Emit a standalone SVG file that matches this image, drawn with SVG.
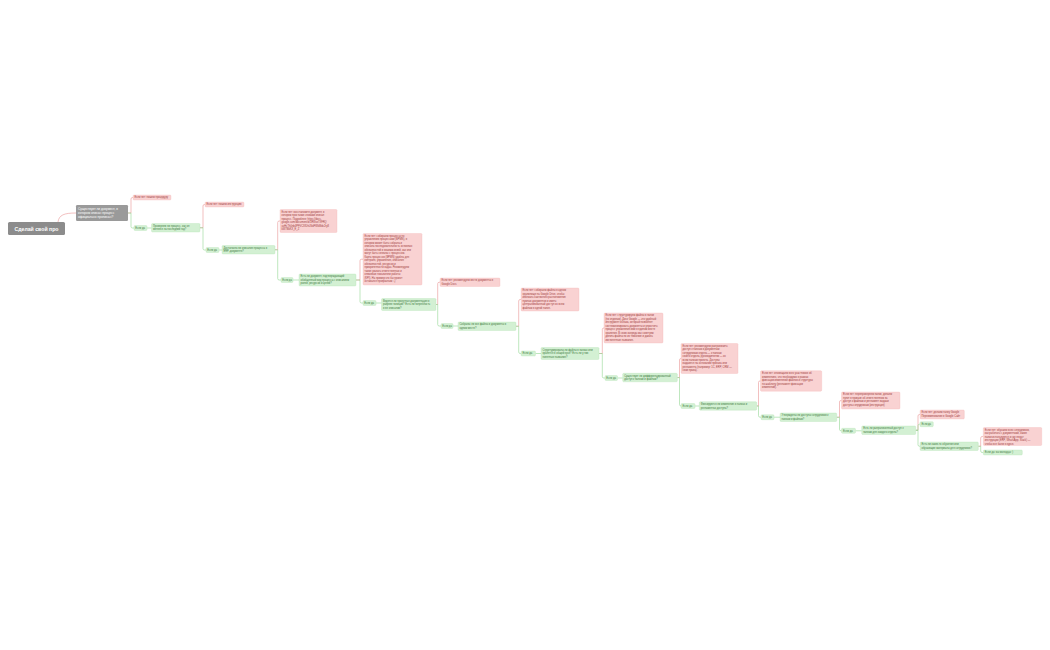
<svg xmlns="http://www.w3.org/2000/svg" width="1050" height="650" viewBox="0 0 1050 650">
<style>
.bg{fill:#ffffff}
.r{fill:#f9d2d2;stroke:#f0b0b0;stroke-width:0.3}
.g{fill:#d3f0d3;stroke:#ade0ad;stroke-width:0.3}
.tr{font-family:"Liberation Sans",Arial,sans-serif;font-size:2.6px;fill:#a23a3a}
.tg{font-family:"Liberation Sans",Arial,sans-serif;font-size:2.6px;fill:#3b7a3b}
.lr{fill:none;stroke:#e99696;stroke-width:0.6}
.lg{fill:none;stroke:#93d693;stroke-width:0.6}
</style>
<rect class="bg" x="0" y="0" width="1050" height="650"/>
<g id="connectors">
<path class="lr" d="M58,222 C59,215 64,213 76,213"/>
<path class="lr" d="M128,213 H131 V199 Q131,197.5 132.5,197.5 H133"/>
<path class="lg" d="M128,213 H131 V226.5 Q131,228 132.5,228 H134"/>
<path class="lg" d="M147,228 H151.5"/>
<path class="lr" d="M200,227.75 H203 V206 Q203,204.5 204.5,204.5 H205"/>
<path class="lg" d="M200,227.75 H203 V248.5 Q203,250 204.5,250 H206"/>
<path class="lg" d="M219,250 H222"/>
<path class="lr" d="M275,249.75 H277.7 V222.5 Q277.7,221 279.2,221 H280"/>
<path class="lg" d="M275,249.75 H277.7 V278.5 Q277.7,280 279.2,280 H281"/>
<path class="lg" d="M293,280 H299"/>
<path class="lr" d="M356,280 H360 V260.75 Q360,259.25 361.5,259.25 H363"/>
<path class="lg" d="M356,280 H360 V301.5 Q360,303 361.5,303 H363"/>
<path class="lg" d="M376,303 H381.5"/>
<path class="lr" d="M436,304.5 H437.7 V283.75 Q437.7,282.25 439.2,282.25 H440"/>
<path class="lg" d="M436,304.5 H437.7 V324.5 Q437.7,326 439.2,326 H441"/>
<path class="lg" d="M453,326 H458"/>
<path class="lr" d="M516,326.25 H518.7 V301 Q518.7,299.5 520.2,299.5 H521"/>
<path class="lg" d="M516,326.25 H518.7 V352 Q518.7,353.5 520.2,353.5 H521"/>
<path class="lg" d="M535.5,353.5 H541"/>
<path class="lr" d="M599,353.5 H602.3 V329.5 Q602.3,328 603.8,328 H604"/>
<path class="lg" d="M599,353.5 H602.3 V376.5 Q602.3,378 603.8,378 H605"/>
<path class="lg" d="M617.5,378 H622.7"/>
<path class="lr" d="M677.3,377.55 H679.5 V360 Q679.5,358.5 681,358.5"/>
<path class="lg" d="M677.3,377.55 H679.5 V404.5 Q679.5,406 681,406"/>
<path class="lg" d="M695,406 H699.3"/>
<path class="lr" d="M756.7,405.95 H758.5 V382.45 Q758.5,380.95 760,380.95 H760.5"/>
<path class="lg" d="M756.7,405.95 H758.5 V415.7 Q758.5,417.2 760,417.2 H761"/>
<path class="lg" d="M774,417.2 H780"/>
<path class="lr" d="M836.7,417.25 H839.5 V402 Q839.5,400.5 841,400.5 H841.5"/>
<path class="lg" d="M836.7,417.25 H839.5 V429.3 Q839.5,430.8 841,430.8 H841.5"/>
<path class="lg" d="M855.5,430.8 H861.7"/>
<path class="lr" d="M915.7,430.25 H918 V416 Q918,414.5 919.5,414.5 H920"/>
<path class="lg" d="M915.7,430.25 H918 V425.7 Q918,424.2 919.5,424.2 H920"/>
<path class="lg" d="M915.7,430.25 H918 V444.75 Q918,446.25 919.5,446.25 H920"/>
<path class="lr" d="M978.3,446.25 H980.7 V438 Q980.7,436.5 982.2,436.5 H983.3"/>
<path class="lg" d="M978.3,446.25 H980.7 V451 Q980.7,452.5 982.2,452.5 H983.3"/>
</g>
<g id="root">
<rect x="8" y="222" width="57" height="13" rx="1.5" fill="#8c8c8c"/>
<text x="36.5" y="230.6" text-anchor="middle" font-family="Liberation Sans,Arial,sans-serif" font-size="5.2" font-weight="bold" fill="#ffffff">Сделай свой про</text>
</g>
<g id="n1">
<rect x="76" y="205" width="52" height="16" rx="1.2" fill="#9a9a9a"/>
<text font-family="Liberation Sans,Arial,sans-serif" font-size="3.2" fill="#ffffff"><tspan x="78" y="209.6">Существует ли документ, в</tspan><tspan x="78" y="213.8">котором описан процесс</tspan><tspan x="78" y="218">официально прописан?</tspan></text>
</g>
<g id="r1"><rect class="r" x="133" y="195" width="38" height="5" rx="1"/><text class="tr" x="134.5" y="198.4">Если нет: пишем процедуру</text></g>
<g id="g1"><rect class="g" x="134" y="225.5" width="13" height="5" rx="1"/><text class="tg" x="135.3" y="228.9">Если да</text></g>
<g id="q1"><rect class="g" x="151.5" y="223.5" width="48.5" height="8.5" rx="1"/><text class="tg"><tspan x="153" y="226.8">Проверяли ли процесс, как он</tspan><tspan x="153" y="230.3">менялся за последний год?</tspan></text></g>
<g id="r2"><rect class="r" x="205" y="202" width="39" height="5" rx="1"/><text class="tr" x="206.5" y="205.4">Если нет: пишем инструкцию</text></g>
<g id="g2"><rect class="g" x="206" y="247.5" width="13" height="5" rx="1"/><text class="tg" x="207.3" y="250.9">Если да</text></g>
<g id="q2"><rect class="g" x="222" y="245.5" width="53" height="8.5" rx="1"/><text class="tg"><tspan x="223.5" y="248.8">Достаточно ли описания процесса в</tspan><tspan x="223.5" y="252.3">ERP-документе?</tspan></text></g>
<g id="r3"><rect class="r" x="280" y="209.5" width="57" height="23" rx="1"/><text class="tr"><tspan x="281.5" y="212.8">Если нет: восстановите документ, в</tspan><tspan x="281.5" y="216.3">котором простыми словами описан</tspan><tspan x="281.5" y="219.8">процесс. Подробнее: https://docs.</tspan><tspan x="281.5" y="223.3">google.com/document/d/1fR8vz7XFRQ</tspan><tspan x="281.5" y="226.8">uvHcTh0nb4PFVCXfDhLNdFWkMdv2ry8</tspan><tspan x="281.5" y="230.3">kW7BkKX_E_Z</tspan></text></g>
<g id="g3"><rect class="g" x="281" y="277.5" width="12" height="5" rx="1"/><text class="tg" x="282.2" y="280.9">Если да</text></g>
<g id="q3"><rect class="g" x="299" y="274" width="57" height="12" rx="1"/><text class="tg"><tspan x="300.5" y="277.3">Есть ли документ, подтверждающий</tspan><tspan x="300.5" y="280.8">обобщенный вид процесса с описанием</tspan><tspan x="300.5" y="284.3">ролей, ресурсов и целей?</tspan></text></g>
<g id="r4"><rect class="r" x="363" y="233.5" width="59" height="51.5" rx="1"/><text class="tr"><tspan x="364.5" y="236.8">Если нет: собираем процессы по</tspan><tspan x="364.5" y="240.3">управлению процессами (BPMN), в</tspan><tspan x="364.5" y="243.8">котором может быть собрана и</tspan><tspan x="364.5" y="247.3">описана последовательность основных</tspan><tspan x="364.5" y="250.8">обязанностей и взаимосвязей, как они</tspan><tspan x="364.5" y="254.3">могут быть связаны с процессом.</tspan><tspan x="364.5" y="257.8">Карта процессов (BPMN) удобна для</tspan><tspan x="364.5" y="261.3">контроля, управления, описания</tspan><tspan x="364.5" y="264.8">обязанностей, ресурсов и</tspan><tspan x="364.5" y="268.3">приоритетности задач. Рекомендуем</tspan><tspan x="364.5" y="271.8">также указать ответственных и</tspan><tspan x="364.5" y="275.3">ключевые показатели работы</tspan><tspan x="364.5" y="278.8">(KPI). На пример что бы проект</tspan><tspan x="364.5" y="282.3">оставался прозрачным :-)</tspan></text></g>
<g id="g4"><rect class="g" x="363" y="300.5" width="13" height="5" rx="1"/><text class="tg" x="364.3" y="303.9">Если да</text></g>
<g id="q4"><rect class="g" x="381.5" y="298.5" width="54.5" height="12" rx="1"/><text class="tg"><tspan x="383" y="301.8">Ведется ли проектная документация в</tspan><tspan x="383" y="305.3">разрезе позиций? Есть ли потребность</tspan><tspan x="383" y="308.8">в ее описании?</tspan></text></g>
<g id="r5"><rect class="r" x="440" y="278" width="60" height="8.5" rx="1"/><text class="tr"><tspan x="441.5" y="281.3">Если нет: рекомендуем вести документы в</tspan><tspan x="441.5" y="284.8">Google Docs</tspan></text></g>
<g id="g5"><rect class="g" x="441" y="323.5" width="12" height="5" rx="1"/><text class="tg" x="442.2" y="326.9">Если да</text></g>
<g id="q5"><rect class="g" x="458" y="322" width="58" height="8.5" rx="1"/><text class="tg"><tspan x="459.5" y="325.3">Собраны ли все файлы и документы в</tspan><tspan x="459.5" y="328.8">одном месте?</tspan></text></g>
<g id="r6"><rect class="r" x="521" y="288" width="58" height="23" rx="1"/><text class="tr"><tspan x="522.5" y="291.3">Если нет: собираем файлы в одном</tspan><tspan x="522.5" y="294.8">хранилище на Google Drive, чтобы</tspan><tspan x="522.5" y="298.3">избежать хаотичного расположения</tspan><tspan x="522.5" y="301.8">нужных документов и иметь</tspan><tspan x="522.5" y="305.3">централизованный доступ ко всем</tspan><tspan x="522.5" y="308.8">файлам в одной папке.</tspan></text></g>
<g id="g6"><rect class="g" x="521" y="351" width="14.5" height="5" rx="1"/><text class="tg" x="522.6" y="354.4">Если да</text></g>
<g id="q6"><rect class="g" x="541" y="347.5" width="58" height="12" rx="1"/><text class="tg"><tspan x="542.5" y="350.8">Структурированы ли файлы в папках или</tspan><tspan x="542.5" y="354.3">хранятся в общей куче? Есть ли у них</tspan><tspan x="542.5" y="357.8">понятные названия?</tspan></text></g>
<g id="r7"><rect class="r" x="604" y="313" width="59" height="30" rx="1"/><text class="tr"><tspan x="605.5" y="316.3">Если нет: структурируем файлы в папки</tspan><tspan x="605.5" y="319.8">(по отделам). Диск Google — это удобный</tspan><tspan x="605.5" y="323.3">инструмент облака, который позволяет</tspan><tspan x="605.5" y="326.8">систематизировать документы и упростить</tspan><tspan x="605.5" y="330.3">процесс управления ими в едином месте</tspan><tspan x="605.5" y="333.8">хранения. В свою очередь мы советуем</tspan><tspan x="605.5" y="337.3">делить файлы по их тематике и давать</tspan><tspan x="605.5" y="340.8">им понятные названия.</tspan></text></g>
<g id="g7"><rect class="g" x="605" y="375.5" width="12.5" height="5" rx="1"/><text class="tg" x="606.3" y="378.9">Если да</text></g>
<g id="q7"><rect class="g" x="622.7" y="373.3" width="54.6" height="8.5" rx="1"/><text class="tg"><tspan x="624.2" y="376.6">Существует ли дифференцированный</tspan><tspan x="624.2" y="380.1">доступ к папкам и файлам?</tspan></text></g>
<g id="r8"><rect class="r" x="681" y="343.5" width="57" height="30" rx="1"/><text class="tr"><tspan x="682.5" y="346.8">Если нет: рекомендуем разграничить</tspan><tspan x="682.5" y="350.3">доступ к папкам и документам:</tspan><tspan x="682.5" y="353.8">сотрудникам отдела — к папкам</tspan><tspan x="682.5" y="357.3">своего отдела, руководителям — ко</tspan><tspan x="682.5" y="360.8">всем папкам проекта. Доступы</tspan><tspan x="682.5" y="364.3">выдаются на основании приказа или</tspan><tspan x="682.5" y="367.8">регламента (например: 1С, ERP, CRM —</tspan><tspan x="682.5" y="371.3">свои права).</tspan></text></g>
<g id="g8"><rect class="g" x="681" y="403.5" width="14" height="5" rx="1"/><text class="tg" x="682.5" y="406.9">Если да</text></g>
<g id="q8"><rect class="g" x="699.3" y="401.7" width="57.4" height="8.5" rx="1"/><text class="tg"><tspan x="700.8" y="405">Фиксируются ли изменения в папках и</tspan><tspan x="700.8" y="408.5">регламентах доступа?</tspan></text></g>
<g id="r9"><rect class="r" x="760.5" y="370.7" width="61.2" height="20.5" rx="1"/><text class="tr"><tspan x="762" y="374">Если нет: оповещаем всех участников об</tspan><tspan x="762" y="377.5">изменениях, что необходимо в рамках</tspan><tspan x="762" y="381">фиксации изменений файлов и структуры</tspan><tspan x="762" y="384.5">по шаблону (регламент фиксации</tspan><tspan x="762" y="388">изменений).</tspan></text></g>
<g id="g9"><rect class="g" x="761" y="414.7" width="13" height="5" rx="1"/><text class="tg" x="762.3" y="418.1">Если да</text></g>
<g id="q9"><rect class="g" x="780" y="413" width="56.7" height="8.5" rx="1"/><text class="tg"><tspan x="781.5" y="416.3">Утверждены ли доступы сотрудников к</tspan><tspan x="781.5" y="419.8">папкам и файлам?</tspan></text></g>
<g id="r10"><rect class="r" x="841.5" y="392" width="58.5" height="17" rx="1"/><text class="tr"><tspan x="843" y="395.3">Если нет: перепроверяем папки, делаем</tspan><tspan x="843" y="398.8">пункт в приказе об ответственном за</tspan><tspan x="843" y="402.3">доступ к файлам и регламент выдачи</tspan><tspan x="843" y="405.8">доступа сотрудникам (инструкция)</tspan></text></g>
<g id="g10"><rect class="g" x="841.5" y="428.3" width="14" height="5" rx="1"/><text class="tg" x="843" y="431.7">Если да</text></g>
<g id="q10"><rect class="g" x="861.7" y="426" width="54" height="8.5" rx="1"/><text class="tg"><tspan x="863.2" y="429.3">Есть ли разграниченный доступ к</tspan><tspan x="863.2" y="432.8">папкам для каждого отдела?</tspan></text></g>
<g id="r11"><rect class="r" x="920" y="410" width="44.3" height="9" rx="1"/><text class="tr"><tspan x="921.5" y="413.3">Если нет: делаем папку Google</tspan><tspan x="921.5" y="416.8">Переименование в Google Сайт</tspan></text></g>
<g id="g11"><rect class="g" x="920" y="421.7" width="13.3" height="5" rx="1"/><text class="tg" x="921.4" y="425.1">Если да</text></g>
<g id="q11"><rect class="g" x="920" y="442" width="58.3" height="8.5" rx="1"/><text class="tg"><tspan x="921.5" y="445.3">Есть ли какие-то обучения или</tspan><tspan x="921.5" y="448.8">обучающие материалы для сотрудников?</tspan></text></g>
<g id="r12"><rect class="r" x="983.3" y="427.5" width="58.4" height="18" rx="1"/><text class="tr"><tspan x="984.8" y="430.8">Если нет: обучаем всех сотрудников,</tspan><tspan x="984.8" y="434.3">как работать с документами, какие</tspan><tspan x="984.8" y="437.8">папки используются и где лежат</tspan><tspan x="984.8" y="441.3">инструкции (ERP, WhatsApp, Slack) —</tspan><tspan x="984.8" y="444.8">чтобы все были в курсе.</tspan></text></g>
<g id="g12"><rect class="g" x="983.3" y="450" width="39" height="5" rx="1"/><text class="tg" x="984.8" y="453.4">Если да: вы молодцы :)</text></g>
</svg>
